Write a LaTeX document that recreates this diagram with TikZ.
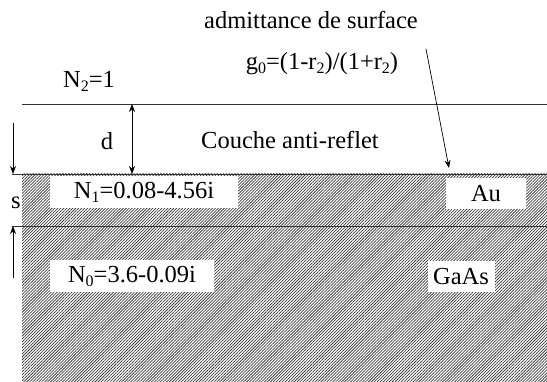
\documentclass[tikz,border=0pt]{standalone}
\usepackage{fontspec}
\setmainfont{Liberation Serif}
\usepackage{tikz}
\usetikzlibrary{arrows.meta,patterns.meta}

\tikzset{
  lbl/.style={font=\fontsize{24.5}{28}\selectfont, inner sep=0pt},
  whitebox/.style={lbl, fill=white, minimum height=32pt},
  layerline/.style={line width=0.8pt, black!80}
}
\newcommand{\sub}[1]{\raisebox{-0.35ex}{\fontsize{16}{18}\selectfont #1}}

\begin{document}
\begin{tikzpicture}[x=1pt,y=-1pt,>={Stealth[length=8pt,width=6pt]}]
\useasboundingbox (0,0) rectangle (547,382);
% substrate and gold, hatched
\fill[pattern={Lines[angle=45,distance=2.1pt,line width=0.75pt]},pattern color=black!75] (22,174) rectangle (547,382);
\draw[layerline](22,104)--(547,104)
(12,174)--(547,174)
(12,226)--(547,226);
% thickness arrows
\coordinate (sT) at (13,123);
\coordinate (sA) at (13,174);
\coordinate (sB) at (13,226);
\coordinate (sU) at (13,278);
\draw[->,line width=0.7pt](sT)--(sA);
\draw[->,line width=0.7pt](sU)--(sB);
\node[lbl] (s) at (16,203) {s};
\coordinate (dT) at (132,104);
\coordinate (dB) at (132,174);
\draw[<->,line width=0.7pt](dT)--(dB);
\node[lbl] (d) at (107,141) {d};
% labels
\node[lbl] (air) at (89,81) {N\sub{2}=1};
\node[lbl] (adm) at (311,20) {admittance de surface};
\node[lbl] (g0) at (322,64) {g\sub{0}=(1-r\sub{2})/(1+r\sub{2})};
\node[lbl] (arc) at (290,140) {Couche anti-reflet};
\node[whitebox,minimum width=188pt] (N1) at (144,192) {N\sub{1}=0.08-4.56i};
\node[whitebox,minimum width=80pt,minimum height=31pt] (au) at (486,193.5) {Au};
\node[whitebox,minimum width=164pt] (N0) at (132,276) {N\sub{0}=3.6-0.09i};
\node[whitebox,minimum width=67pt,minimum height=31pt] (gaas) at (461,276.5) {GaAs};
% admittance arrow
\coordinate (aS) at (426,49);
\coordinate (aE) at (449,168);
\draw[->,line width=0.7pt](aS)--(aE);
\end{tikzpicture}
\end{document}
